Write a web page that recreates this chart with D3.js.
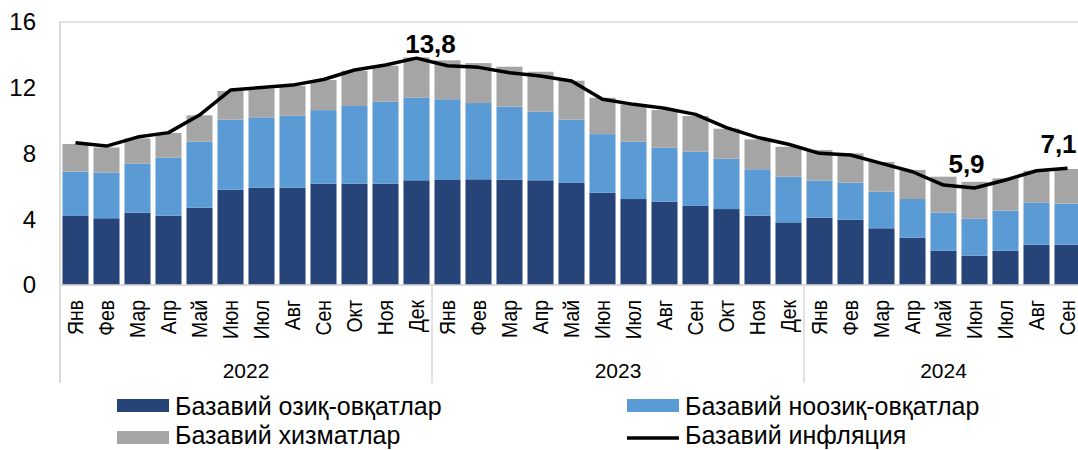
<!DOCTYPE html>
<html>
<head>
<meta charset="utf-8">
<script src="https://cdn.jsdelivr.net/npm/d3@7"></script>
<style>
  body { margin: 0; background: #fff; }
  svg { font-family: "Liberation Sans", Arial, sans-serif; display: block; }
</style>
</head>
<body>
<div id="chart"></div>
<script>
// month labels and years
const monthNames = ["Янв", "Фев", "Мар", "Апр", "Май", "Июн", "Июл", "Авг", "Сен", "Окт", "Ноя", "Дек",
                    "Янв", "Фев", "Мар", "Апр", "Май", "Июн", "Июл", "Авг", "Сен", "Окт", "Ноя", "Дек",
                    "Янв", "Фев", "Мар", "Апр", "Май", "Июн", "Июл", "Авг", "Сен"];
const years = ["2022", "2023", "2024"];
const yearLengths = [12, 12, 9];

// contributions, p.p.
const food = [4.20, 4.06, 4.40, 4.22, 4.70, 5.80, 5.92, 5.92, 6.16, 6.16, 6.16, 6.37,
              6.39, 6.43, 6.41, 6.37, 6.22, 5.61, 5.23, 5.07, 4.81, 4.62, 4.22, 3.81,
              4.10, 3.97, 3.45, 2.88, 2.09, 1.78, 2.09, 2.45, 2.45];
const nonFood = [2.70, 2.77, 2.98, 3.52, 4.02, 4.26, 4.28, 4.38, 4.48, 4.73, 4.99, 5.02,
                 4.91, 4.64, 4.44, 4.17, 3.84, 3.57, 3.49, 3.28, 3.30, 3.06, 2.82, 2.78,
                 2.25, 2.25, 2.23, 2.35, 2.31, 2.25, 2.43, 2.55, 2.50];
const services = [1.68, 1.54, 1.54, 1.51, 1.60, 1.74, 1.76, 1.82, 1.83, 2.15, 2.19, 2.46,
                  2.37, 2.43, 2.43, 2.43, 2.37, 2.21, 2.27, 2.29, 2.17, 1.83, 1.82, 1.82,
                  1.86, 1.79, 1.80, 1.77, 2.19, 2.25, 1.97, 1.95, 2.11];
const core = [8.65, 8.45, 9.00, 9.27, 10.34, 11.86, 12.02, 12.16, 12.50, 13.08, 13.38, 13.80,
              13.34, 13.24, 12.91, 12.71, 12.41, 11.30, 10.99, 10.75, 10.38, 9.57, 8.98, 8.56,
              8.01, 7.91, 7.40, 6.89, 6.08, 5.90, 6.39, 6.95, 7.10];
const yTicks = [0, 4, 8, 12, 16];

const seriesNames = ["Базавий озиқ-овқатлар", "Базавий ноозиқ-овқатлар", "Базавий хизматлар", "Базавий инфляция"];
const colors = ["#264478", "#5b9bd5", "#a5a5a5", "#000000"];

const width = 1078, height = 450;
const plotLeft = 60, plotRight = 1083, plotTop = 22, plotBottom = 285, axisBottom = 383;

const svg = d3.select("#chart").append("svg")
    .attr("width", width).attr("height", height);

const idx = d3.range(monthNames.length);
const x = d3.scaleBand().domain(idx).range([plotLeft, plotRight]).paddingInner(0.16).paddingOuter(0.08);
const y = d3.scaleLinear().domain([0, 16]).range([plotBottom, plotTop]);

// plot frame
svg.append("rect")
    .attr("x", plotLeft).attr("y", plotTop)
    .attr("width", plotRight - plotLeft).attr("height", plotBottom - plotTop)
    .attr("fill", "none").attr("stroke", "#d9d9d9").attr("stroke-width", 1.5);

// stacked bars
const rows = idx.map(i => ({ i, food: food[i], nonFood: nonFood[i], services: services[i] }));
const stack = d3.stack().keys(["food", "nonFood", "services"])(rows);

svg.append("g").selectAll("g")
    .data(stack)
    .join("g")
    .attr("fill", (d, k) => colors[k])
    .selectAll("rect")
    .data(d => d)
    .join("rect")
    .attr("x", d => x(d.data.i))
    .attr("width", x.bandwidth())
    .attr("y", d => y(d[1]))
    .attr("height", d => y(d[0]) - y(d[1]));

// zero line
svg.append("line")
    .attr("x1", plotLeft).attr("x2", plotRight)
    .attr("y1", y(0)).attr("y2", y(0))
    .attr("stroke", "#d9d9d9").attr("stroke-width", 1.5);

// y axis labels
svg.append("g").selectAll("text")
    .data(yTicks)
    .join("text")
    .attr("x", 36).attr("y", d => y(d))
    .attr("dy", "0.35em")
    .attr("text-anchor", "end")
    .attr("font-size", 24)
    .attr("fill", "#000")
    .text(d => d);

// core inflation line
const line = d3.line()
    .x((d, i) => x(i) + x.bandwidth() / 2)
    .y(d => y(d));

svg.append("path")
    .datum(core)
    .attr("d", line)
    .attr("fill", "none")
    .attr("stroke", colors[3])
    .attr("stroke-width", 3.5)
    .attr("stroke-linejoin", "round");

// value labels
const labelOffsets = { 11: 14, 29: -8, 32: -9 };
const labelY = { 11: 53, 29: 173, 32: 153 };
svg.append("g").selectAll("text")
    .data(Object.keys(labelOffsets).map(Number))
    .join("text")
    .attr("x", i => x(i) + x.bandwidth() / 2 + labelOffsets[i])
    .attr("y", i => labelY[i])
    .attr("text-anchor", "middle")
    .attr("font-size", 26)
    .attr("font-weight", "bold")
    .text(i => core[i].toFixed(1).replace(".", ","));

// month labels
svg.append("g").selectAll("text")
    .data(idx)
    .join("text")
    .attr("transform", i => `translate(${x(i) + x.bandwidth() / 2 + 7},300) rotate(-90) scale(0.88,1)`)
    .attr("text-anchor", "end")
    .attr("font-size", 22)
    .attr("fill", "#000")
    .text(i => monthNames[i]);

// year groups
let start = 0;
const step = x.step();
years.forEach((yr, k) => {
    const x0 = plotLeft + start * step;
    const x1 = plotLeft + (start + yearLengths[k]) * step;
    svg.append("line")
        .attr("x1", x0).attr("x2", x0)
        .attr("y1", plotBottom).attr("y2", axisBottom)
        .attr("stroke", "#d9d9d9").attr("stroke-width", 1.5);
    svg.append("text")
        .attr("x", (x0 + x1) / 2).attr("y", 378)
        .attr("text-anchor", "middle")
        .attr("font-size", 21)
        .text(yr);
    start += yearLengths[k];
});
svg.append("line")
    .attr("x1", plotLeft).attr("x2", plotLeft)
    .attr("y1", plotTop).attr("y2", axisBottom)
    .attr("stroke", "#d9d9d9").attr("stroke-width", 1.5);

// legend
const legendPos = [[117, 406], [627, 406], [117, 438], [627, 438]];
const legend = svg.append("g").selectAll("g")
    .data(seriesNames)
    .join("g")
    .attr("transform", (d, k) => `translate(${legendPos[k][0]},${legendPos[k][1]})`);

legend.each(function (d, k) {
    const g = d3.select(this);
    if (k < 3) {
        g.append("rect").attr("x", 0).attr("y", -7).attr("width", 52).attr("height", 13)
            .attr("fill", colors[k]);
    } else {
        g.append("line").attr("x1", 0).attr("x2", 52).attr("y1", 0).attr("y2", 0)
            .attr("stroke", colors[k]).attr("stroke-width", 3.5);
    }
    g.append("text")
        .attr("x", 58).attr("y", k < 2 ? 9 : 6)
        .attr("font-size", 25)
        .text(d);
});
</script>
</body>
</html>
